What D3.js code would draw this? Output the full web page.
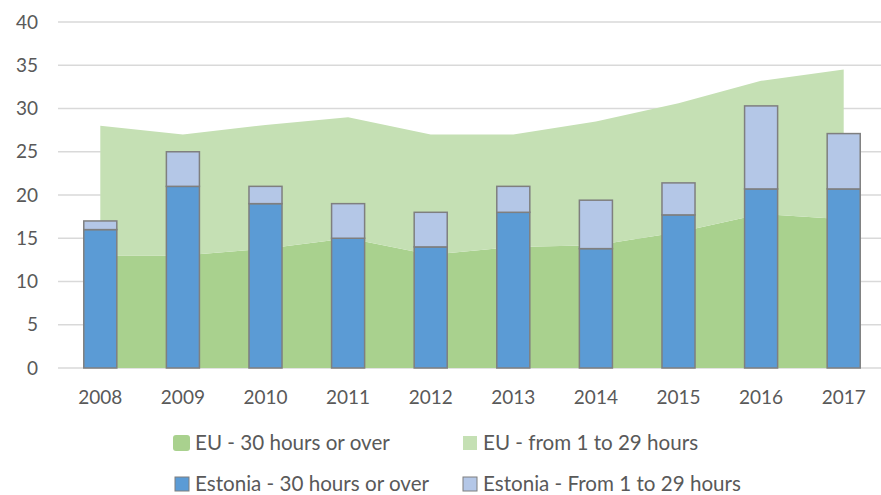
<!DOCTYPE html>
<html>
<head>
<meta charset="utf-8">
<script src="https://cdn.jsdelivr.net/npm/d3@7"></script>
<style>
  body { margin: 0; background: #fff; }
  text { font-family: Lato, "Open Sans", sans-serif; fill: #595959; }
</style>
</head>
<body>
<script>
const years = ['2008', '2009', '2010', '2011', '2012', '2013', '2014', '2015', '2016', '2017'];
const euOver30 = [13, 13, 13.8, 15, 13.1, 14, 14.2, 15.7, 17.8, 17.2];
const euUnder30 = [15, 14, 14.3, 14, 13.9, 13, 14.3, 14.9, 15.4, 17.3];
const estOver30 = [16, 21, 19, 15, 14, 18, 13.8, 17.7, 20.7, 20.7];
const estUnder30 = [1, 4, 2, 4, 4, 3, 5.6, 3.7, 9.6, 6.4];
const yTicks = [0, 5, 10, 15, 20, 25, 30, 35, 40];
const legendLabels = ['EU - 30 hours or over', 'EU - from 1 to 29 hours',
  'Estonia - 30 hours or over', 'Estonia - From 1 to 29 hours'];

const areaColors = ['#a9d18e', '#c5e0b4'];
const barColors = ['#5b9bd5', '#b4c7e7'];
const legendColors = [areaColors[0], areaColors[1], barColors[0], barColors[1]];

const width = 881;
const height = 495;
const plotLeft = 59, plotRight = 885, plotTop = 22, plotBottom = 368;

const svg = d3.select(document.body)
  .append('svg')
  .attr('width', width)
  .attr('height', height);

const x = d3.scaleBand()
  .domain(years)
  .range([plotLeft, plotRight])
  .paddingInner(0.6)
  .paddingOuter(0.3);

const y = d3.scaleLinear()
  .domain([0, 40])
  .range([plotBottom, plotTop]);

const cx = d => x(d) + x.bandwidth() / 2;

// gridlines
svg.selectAll('line.grid')
  .data(yTicks)
  .enter()
  .append('line')
  .attr('x1', 58)
  .attr('x2', width)
  .attr('y1', d => y(d))
  .attr('y2', d => y(d))
  .style('stroke', '#d9d9d9')
  .style('stroke-width', 1.3);

svg.selectAll('text.ytick')
  .data(yTicks)
  .enter()
  .append('text')
  .attr('x', 38)
  .attr('y', d => y(d))
  .attr('dy', '0.35em')
  .attr('text-anchor', 'end')
  .style('font-size', '19px')
  .text(d => d);

// stacked EU areas
const rows = years.map((yr, i) => ({ year: yr, a: euOver30[i], b: euUnder30[i] }));
const stack = d3.stack().keys(['a', 'b'])(rows);

const area = d3.area()
  .x(d => cx(d.data.year))
  .y0(d => y(d[0]))
  .y1(d => y(d[1]));

svg.selectAll('path.area')
  .data(stack)
  .enter()
  .append('path')
  .attr('d', area)
  .style('fill', (d, i) => areaColors[i]);

// stacked Estonia bars
const barRows = years.map((yr, i) => ({ year: yr, a: estOver30[i], b: estUnder30[i] }));
const barStack = d3.stack().keys(['a', 'b'])(barRows);

barStack.forEach((layer, i) => {
  svg.selectAll('rect.s' + i)
    .data(layer)
    .enter()
    .append('rect')
    .attr('x', d => x(d.data.year))
    .attr('y', d => y(d[1]))
    .attr('width', x.bandwidth())
    .attr('height', d => y(d[0]) - y(d[1]))
    .style('fill', barColors[i])
    .style('stroke', '#7f7f7f')
    .style('stroke-width', 1.5);
});

// x labels
svg.selectAll('text.xtick')
  .data(years)
  .enter()
  .append('text')
  .attr('x', d => cx(d))
  .attr('y', 397)
  .attr('dy', '0.35em')
  .attr('text-anchor', 'middle')
  .style('font-size', '19px')
  .text(d => d);

// legend
const legendPos = [[175, 443], [463, 443], [175, 484], [463, 484]];
const lg = svg.selectAll('g.legend')
  .data(legendLabels)
  .enter()
  .append('g')
  .attr('transform', (d, i) => `translate(${legendPos[i][0]},${legendPos[i][1]})`);

lg.append('rect')
  .attr('x', (d, i) => i === 0 ? -2 : 0)
  .attr('y', (d, i) => i === 0 ? -8 : -7)
  .attr('width', (d, i) => i === 0 ? 17 : 14)
  .attr('height', (d, i) => i === 0 ? 16 : 14)
  .attr('rx', (d, i) => i === 0 ? 3 : 0)
  .style('fill', (d, i) => legendColors[i])
  .style('stroke', (d, i) => i < 2 ? 'none' : '#7f7f7f')
  .style('stroke-width', 1);

lg.append('text')
  .attr('x', 20)
  .attr('y', 0)
  .attr('dy', '0.35em')
  .style('font-size', '20.6px')
  .text(d => d);
</script>
</body>
</html>
